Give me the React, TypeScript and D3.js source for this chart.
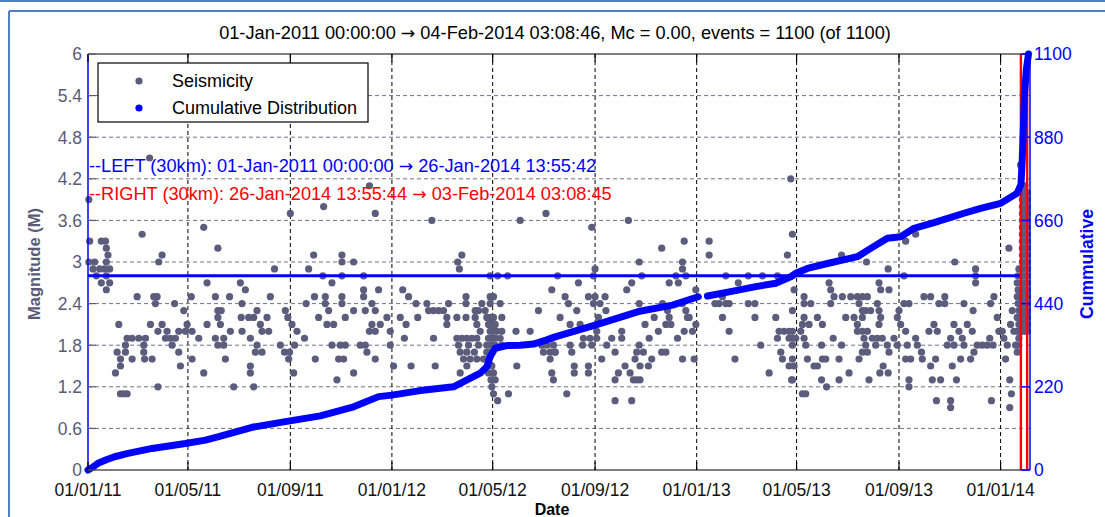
import React from "react";
import * as d3 from "d3";

// ---- data ----
const START = "2011-01-01T00:00:00Z";
const END = "2014-02-04T03:08:46Z";
const LEFT_WINDOW = ["2011-01-01T00:00:00Z", "2014-01-26T13:55:42Z"];
const RIGHT_WINDOW = ["2014-01-26T13:55:44Z", "2014-02-03T03:08:45Z"];
const REF_MAGNITUDE = 2.8;

const X_TICKS = ["2011-01-01", "2011-05-01", "2011-09-01", "2012-01-01", "2012-05-01", "2012-09-01", "2013-01-01", "2013-05-01", "2013-09-01", "2014-01-01"];
const Y_TICKS = [0, 0.6, 1.2, 1.8, 2.4, 3, 3.6, 4.2, 4.8, 5.4, 6];
const Y2_TICKS = [0, 220, 440, 660, 880, 1100];

const TITLE = "01-Jan-2011 00:00:00 \u2192 04-Feb-2014 03:08:46, Mc = 0.00, events = 1100 (of 1100)";
const LEFT_LABEL = "--LEFT (30km): 01-Jan-2011 00:00:00 \u2192 26-Jan-2014 13:55:42";
const RIGHT_LABEL = "--RIGHT (30km): 26-Jan-2014 13:55:44 \u2192 03-Feb-2014 03:08:45";

// seismicity: [days since 01-Jan-2011, magnitude]
const SEIS_2011: [number, number][] = [
  [74,4.5],[1,3.9],[2,3.3],[16,3.3],[21,3.3],[22,3.2],[24,3.1],[1,3.0],[8,3.0],[22,3.0],[6,2.9],[14,2.9],[20,2.9],[26,2.9],[10,2.8],[22,2.8],[16,2.7],[26,2.7],[22,2.6],
  [65,3.4],[89,3.1],[85,3.0],[139,3.5],[156,3.2],[143,2.7],[224,2.9],[243,3.7],[271,3.1],[265,2.9],[283,3.8],[282,2.8],
  [59,2.5],[79,2.5],[83,2.5],[81,2.4],[37,2.1],[75,2.1],[89,2.1],[84,2.0],[95,2.0],[93,1.9],[47,1.9],[53,1.9],[61,1.9],[69,1.9],[45,1.8],[67,1.8],[35,1.7],[45,1.7],[67,1.7],[39,1.6],[53,1.6],[68,1.6],[77,1.6],[39,1.5],[33,1.4],[39,1.1],[43,1.1],[47,1.1],[84,1.2],
  [104,2.4],[115,2.3],[99,1.9],[105,1.9],[101,1.8],[109,1.7],[111,1.5],[109,2.0],[117,2.0],[125,2.0],[119,2.1],[124,2.5],[125,1.6],[133,1.9],[139,1.4],[143,2.1],[153,2.5],[156,2.3],[160,2.3],[156,2.2],[159,2.1],[153,1.9],[163,1.9],[156,1.8],[163,1.8],[165,1.6],[170,2.5],[171,2.0],[175,1.2],[183,2.7],[189,2.6],[185,2.4],[184,2.2],[193,2.2],[199,2.2],[203,2.3],[185,2.0],[195,1.9],[207,2.1],[215,2.2],[209,2.0],[217,2.0],[203,1.8],[201,1.7],[209,1.7],[195,1.5],[195,1.4],[199,1.2],[219,2.5],[231,1.8],[237,2.3],[240,2.2],[245,2.1],[251,2.0],[236,1.7],[242,1.7],[248,1.8],[241,1.6],[247,1.4],[260,1.9],[262,2.4],[272,2.5],[273,1.6],[277,2.2],
  [338,4.1],[345,3.7],[305,3.1],[305,3.0],[319,3.0],[305,2.8],[331,2.8],[293,2.7],
  [285,2.5],[285,2.4],[289,2.3],[305,2.5],[305,2.4],[309,2.2],[319,2.3],[331,2.6],[331,2.5],[333,2.3],[349,2.6],[341,2.4],[345,2.3],[341,2.1],[351,2.1],[338,2.0],[345,2.0],[359,2.2],[363,2.0],[287,2.1],[295,2.1],[293,1.8],[303,1.8],[309,1.8],[327,1.8],[333,1.8],[335,1.7],[301,1.6],[307,1.6],[345,1.6],[319,1.4],[299,1.3],[363,1.8],
];

const SEIS_2012: [number, number][] = [
  [367,1.5],[413,3.6],[519,3.6],[550,3.7],[444,3.0],[446,2.9],[449,3.1],[483,2.8],[492,2.8],[504,2.8],
  [378,2.6],[385,2.5],[394,2.4],[396,2.2],[375,2.2],[382,2.1],[380,1.9],[388,1.5],[407,2.4],[409,2.3],[415,2.3],[421,2.3],[427,2.3],[431,2.2],[431,2.1],[433,2.4],[415,1.9],[417,1.5],[443,2.2],[454,2.5],[454,2.4],[454,2.2],[443,1.9],[449,1.9],[455,1.9],[461,1.9],[445,1.8],[457,1.8],[447,1.7],[455,1.7],[464,1.7],[451,1.6],[459,1.6],[455,1.5],[447,1.4],
  [465,2.3],[469,2.3],[465,2.2],[467,2.1],[471,2.0],[467,1.9],[469,1.8],[467,1.6],
  [473,2.4],[477,2.3],[483,2.4],[483,2.5],[487,2.5],[479,2.2],[483,2.2],[487,2.2],[481,2.1],[485,2.1],[489,2.1],[483,2.0],[487,2.0],[491,2.0],[497,2.0],[481,1.9],[485,1.9],[489,1.9],[495,1.9],[479,1.8],[483,1.8],[489,1.8],[479,1.7],[485,1.7],[475,1.6],[481,1.6],[485,1.5],[481,1.4],[487,1.4],[484,1.3],[489,1.3],[485,1.2],[487,1.1],[492,1.0],[495,2.4],[497,2.2],[505,1.1],[497,1.8],
  [514,2.0],[515,1.5],[531,2.0],[541,2.3],[545,1.8],[547,1.7],[551,1.8],[555,1.7],[559,1.8],[561,1.7],[555,1.6],[557,1.4],[559,1.3],[557,2.6],[564,2.8],
  [649,3.6],[605,3.5],[689,3.2],[716,3.3],[609,2.9],[607,2.8],[662,3.0],[665,2.8],[714,3.0],[714,2.9],[706,2.8],[718,2.8],[589,2.7],[653,2.7],[647,2.6],[698,2.7],[709,2.7],
  [573,2.5],[577,2.4],[567,2.2],[587,2.3],[601,2.5],[609,2.5],[621,2.5],[607,2.4],[615,2.4],[622,2.3],[613,2.2],[579,2.1],[591,2.1],[611,2.0],[595,1.9],[603,1.9],[611,1.9],[579,1.8],[594,1.8],[605,1.8],[623,1.8],[581,1.7],[561,1.7],[584,1.5],[584,1.4],[601,1.5],[601,1.4],[575,1.1],[617,1.6],
  [629,1.9],[641,2.0],[641,1.9],[633,1.7],[645,1.5],[637,1.4],[633,1.3],[633,1.0],[653,1.0],[651,1.4],[655,1.3],[659,1.3],[663,1.3],[657,1.6],[663,1.5],[659,1.7],[667,1.7],[662,1.8],[662,2.4],[669,2.1],[674,1.9],[673,1.5],[677,1.6],[680,2.2],[685,2.0],[690,2.4],[696,2.3],[698,2.2],[694,2.1],[700,2.1],[689,1.7],[694,1.7],[708,1.9],[714,1.6],[714,2.4],[718,2.3],[722,2.2],[720,2.2],[716,2.0],[726,2.0],[728,1.6],
];

const SEIS_2013: [number, number][] = [
  [730,2.6],[730,2.1],[746,3.3],[746,3.1],[766,2.8],[793,2.8],[810,2.8],[828,2.8],[781,2.7],
  [753,2.4],[758,2.4],[762,2.5],[770,2.4],[766,2.4],[762,2.2],[770,2.0],[777,1.6],[793,2.4],[801,2.4],[801,2.2],[808,1.8],[818,1.4],[826,2.2],[830,2.0],[836,2.0],[842,2.0],[828,1.9],[842,1.9],[846,1.8],[832,1.7],[834,1.6],[842,1.5],[845,1.3],
  [844,4.2],[846,3.4],[840,3.1],[905,3.1],[935,3.0],[982,3.3],[994,3.4],[961,2.9],[1041,3.0],[1066,2.9],[980,2.8],[1066,2.8],[1066,2.7],[890,2.7],[892,2.6],[950,2.7],[952,2.6],[962,2.6],[848,2.6],
  [860,2.5],[868,2.4],[860,2.4],[896,2.5],[906,2.5],[916,2.5],[924,2.5],[930,2.5],[936,2.5],[892,2.4],[926,2.4],[930,2.3],[940,2.3],[948,2.4],[950,2.3],[952,2.2],[846,2.3],[860,2.2],[858,2.1],[866,2.1],[856,2.0],[846,2.0],[846,1.9],[850,1.9],[860,1.9],[862,1.8],[846,1.6],[848,1.5],[846,1.3],
  [876,2.2],[882,2.1],[881,1.8],[895,1.9],[905,1.8],[902,1.6],[864,1.6],[872,1.5],[876,1.5],[882,1.6],[886,1.6],[881,1.3],[887,1.2],[902,1.3],[858,1.1],[862,1.1],[910,2.2],[920,2.2],[924,2.1],[930,2.2],[934,2.3],[924,2.0],[930,2.0],[936,2.0],[932,1.9],[934,1.8],[936,1.7],[930,1.7],[942,1.9],[948,1.9],[954,1.9],[946,1.8],[960,1.8],[962,1.7],[926,1.6],[950,2.1],[914,1.4],[938,1.3],[955,1.5],[951,1.4],[961,1.4],[968,1.9],
  [974,2.3],[972,2.2],[976,2.1],[982,2.0],[986,2.4],[980,2.4],[972,1.8],[984,1.8],[982,1.6],[988,1.6],[994,1.9],[996,1.8],[1001,1.7],[1002,1.6],[986,1.3],[986,1.2],[1004,2.5],[1012,2.5],[1010,2.0],[1016,2.1],[1020,2.0],[1012,1.5],[1014,1.3],[1024,1.3],[1018,1.6],[1019,1.0],[1022,2.4],[1029,2.5],[1029,2.4],[1032,1.8],[1036,1.9],[1040,1.8],[1038,1.5],[1043,1.3],[1036,1.0],[1036,0.9],
  [1040,2.1],[1046,2.0],[1050,1.9],[1052,1.8],[1048,1.6],[1052,2.4],[1056,2.1],[1062,2.0],[1063,2.3],[1060,1.6],[1064,1.7],
  [1068,1.8],[1074,1.8],[1080,1.8],[1083,1.9],[1087,1.8],[1084,2.4],[1088,2.5],[1092,2.2],[1094,2.0],[1095,2.0],
];

const SEIS_2014: [number, number][] = [
  [1098,2.0],[1100,1.9],[1104,1.8],[1102,1.6],[1106,3.2],[1108,2.1],[1110,2.3],[1112,2.0],[1114,1.8],[1116,1.7],[1107,1.3],[1109,1.1],[1107,0.9],[1085,1.0],
  [1118,2.9],[1120,4.4],[1117,2.8],[1116,2.7],[1117,2.6],[1116,2.5],[1117,2.4],[1118,2.3],[1116,2.2],[1118,2.1],[1116,2.0],[1118,1.9],[1117,1.8],[1119,2.5],[1119,2.2],[1119,2.0],
];

// right-window swarm (days since 01-Jan-2011, magnitudes)
const SWARM_DAYS = [1122.2, 1125.2, 1128.2];
const SWARM_MAGS = [
  [2.0, 2.1, 2.2, 2.3, 2.4, 2.5, 2.6, 2.7, 2.8, 2.9, 3.0, 3.1, 3.2, 3.3, 3.4, 3.5, 3.6, 3.7, 3.8, 3.9, 4.0],
  [2.0, 2.1, 2.2, 2.3, 2.4, 2.5, 2.6, 2.7, 2.8, 2.9, 3.0, 3.1, 3.2, 3.3, 3.4, 3.5, 3.6, 3.7, 3.8, 3.9, 4.0, 4.1],
  [2.0, 2.1, 2.2, 2.3, 2.4, 2.5, 2.6, 2.7, 2.8, 2.9, 3.0, 3.1, 3.2, 3.3, 3.4, 3.5, 3.6, 3.7, 3.8, 3.9, 4.0],
];

// cumulative number of events: [days since 01-Jan-2011, count]
const CUM_PART1: [number, number][] = [
  [0,0],[6,8],[12,18],[22,27],[32,35],[48,44],[77,57],[117,70],[141,79],[157,88],[197,113],[237,128],[279,143],[319,167],[349,194],[365,198],[399,210],[439,220],[471,256],[479,273],[483,300],[489,322],[503,329],[519,330],[535,333],[551,344],[561,352],[609,383],[661,419],[702,436],[733,458],
];
const CUM_PART2: [number, number][] = [
  [744,460],[770,471],[802,485],[826,494],[844,511],[850,520],[864,533],[888,546],[924,564],[940,586],[960,613],[976,617],[992,639],[1016,654],[1052,679],[1072,692],[1096,705],[1116,732],[1120.5,755],[1122,820],[1123,880],[1124.5,986],[1127,1060],[1129.5,1100],
];

// ---- layout ----
const W = 1105, H = 517;
const L = 88, R = 1029, T = 54, B = 470;
const FONT = "'Liberation Sans', Arial, Helvetica, sans-serif";
const ARROW_FONT = "'DejaVu Sans', sans-serif";
const GRAY_DOT = "#5c5c7c";
const AXIS_GRAY = "#5a5a78";

const t0 = new Date(START).getTime();
const dayDate = (d: number) => new Date(t0 + d * 86400000);

function withArrow(s: string) {
  const parts = s.split("\u2192");
  return parts.map((p, i) => (
    <React.Fragment key={i}>
      {i > 0 && <tspan fontFamily={ARROW_FONT} fontSize="0.95em">{"\u2192"}</tspan>}
      <tspan>{p}</tspan>
    </React.Fragment>
  ));
}

export default function App() {
  const x = d3.scaleUtc().domain([new Date(START), new Date(END)]).range([L, R]);
  const y = d3.scaleLinear().domain([0, 6]).range([B, T]);
  const y2 = d3.scaleLinear().domain([0, 1100]).range([B, T]);
  const fmt = d3.utcFormat("%d/%m/%y");

  const seis: [number, number][] = [...SEIS_2011, ...SEIS_2012, ...SEIS_2013, ...SEIS_2014];
  const swarm: [number, number][] = [];
  SWARM_DAYS.forEach((d, i) => SWARM_MAGS[i].forEach((m) => swarm.push([d, m])));

  const cumLine = d3
    .line<[number, number]>()
    .x((d) => x(dayDate(d[0])))
    .y((d) => y2(d[1]));

  const xt = X_TICKS.map((s) => new Date(s + "T00:00:00Z"));
  const RA = R + 1; // right axis line

  return (
    <svg width={W} height={H} style={{ position: "absolute", left: 0, top: 0, background: "#fff" }} fontFamily={FONT}>
      <rect x={0} y={0} width={W} height={H} fill="#fff" />
      {/* window frame */}
      <line x1={0} x2={W} y1={1} y2={1} stroke="#4f7fbf" strokeWidth={2} />
      <line x1={9} x2={W} y1={11} y2={11} stroke="#4f7fbf" strokeWidth={2} />
      <line x1={9} x2={9} y1={11} y2={H} stroke="#4f7fbf" strokeWidth={2} />

      {/* title */}
      <text x={555} y={39} textAnchor="middle" fontSize={18.2} fill="#000">{withArrow(TITLE)}</text>

      {/* grid */}
      {Y_TICKS.filter((v) => v > 0 && v < 6).map((v) => (
        <line key={"hg" + v} x1={L} x2={RA} y1={y(v)} y2={y(v)} stroke="#70708c" strokeDasharray="4,3" strokeWidth={1} />
      ))}
      {xt.slice(1).map((d, i) => (
        <line key={"vg" + i} x1={x(d)} x2={x(d)} y1={T} y2={B} stroke="#000" strokeDasharray="4,3" strokeWidth={1} />
      ))}

      {/* seismicity */}
      {seis.map((p, i) => (
        <circle key={"s" + i} cx={x(dayDate(p[0]))} cy={y(p[1])} r={3.6} fill={GRAY_DOT} />
      ))}
      {swarm.map((p, i) => (
        <circle key={"w" + i} cx={x(dayDate(p[0]))} cy={y(p[1])} r={3.6} fill={GRAY_DOT} />
      ))}

      {/* reference magnitude line over left window */}
      <line x1={x(new Date(LEFT_WINDOW[0]))} x2={x(new Date(LEFT_WINDOW[1]))} y1={y(REF_MAGNITUDE)} y2={y(REF_MAGNITUDE)} stroke="#0000ff" strokeWidth={3} />

      {/* window boundaries */}
      {[LEFT_WINDOW[1], RIGHT_WINDOW[1]].map((s, i) => (
        <line key={"r" + i} x1={x(new Date(s)) - 1} x2={x(new Date(s)) - 1} y1={T} y2={B} stroke="#ff0000" strokeWidth={2.4} />
      ))}

      {/* cumulative */}
      {[CUM_PART1, CUM_PART2].map((part, i) => (
        <path key={"c" + i} d={cumLine(part) || ""} fill="none" stroke="#0000ff" strokeWidth={7} strokeLinecap="round" strokeLinejoin="round" />
      ))}

      {/* axes box */}
      <line x1={L} x2={RA} y1={T} y2={T} stroke="#000" strokeWidth={1.2} />
      <line x1={L} x2={RA} y1={B} y2={B} stroke="#000" strokeWidth={1.2} />
      <line x1={L} x2={L} y1={T} y2={B} stroke="#0000ff" strokeWidth={1.5} />
      <line x1={RA} x2={RA} y1={T} y2={B} stroke="#0000ff" strokeWidth={1.5} />

      {/* x ticks */}
      {xt.map((d, i) => (
        <g key={"xt" + i}>
          <line x1={x(d)} x2={x(d)} y1={B} y2={B - 8} stroke="#000" strokeWidth={1.2} />
          <line x1={x(d)} x2={x(d)} y1={T} y2={T + 8} stroke="#000" strokeWidth={1.2} />
          <text x={x(d)} y={496} textAnchor="middle" fontSize={17.5} fill="#111">{fmt(d)}</text>
        </g>
      ))}

      {/* left y ticks */}
      {Y_TICKS.map((v) => (
        <g key={"yt" + v}>
          <line x1={L} x2={L + 8} y1={y(v)} y2={y(v)} stroke={AXIS_GRAY} strokeWidth={1.2} />
          <text x={82} y={y(v)} dy="0.36em" textAnchor="end" fontSize={17.5} fill={AXIS_GRAY}>{String(v)}</text>
        </g>
      ))}

      {/* right y ticks */}
      {Y2_TICKS.map((v) => (
        <g key={"y2" + v}>
          <line x1={RA} x2={RA - 9} y1={y2(v)} y2={y2(v)} stroke="#0000ff" strokeWidth={1.5} />
          <text x={1034} y={y2(v)} dy="0.36em" textAnchor="start" fontSize={17.5} fill="#0000ff">{String(v)}</text>
        </g>
      ))}

      {/* axis labels */}
      <text transform="translate(40,264) rotate(-90)" textAnchor="middle" fontSize={16.5} fontWeight="bold" fill={AXIS_GRAY}>Magnitude (M)</text>
      <text transform="translate(1093,264) rotate(-90)" textAnchor="middle" fontSize={17.5} fontWeight="bold" fill="#0000ff">Cummulative</text>
      <text x={552} y={515} textAnchor="middle" fontSize={16} fontWeight="bold" fill="#000">Date</text>

      {/* window annotations */}
      <text x={89} y={172} fontSize={18.2} fill="#0000ff">{withArrow(LEFT_LABEL)}</text>
      <text x={89} y={200} fontSize={18.2} fill="#ff0000">{withArrow(RIGHT_LABEL)}</text>

      {/* legend */}
      <rect x={98} y={63} width={270} height={59} fill="#fff" stroke="#000" strokeWidth={1.2} />
      <circle cx={139} cy={81} r={3.6} fill={GRAY_DOT} />
      <text x={172} y={87} fontSize={18} fill="#000">Seismicity</text>
      <circle cx={139} cy={108} r={3.6} fill="#0000ff" />
      <text x={172} y={114} fontSize={18} fill="#000">Cumulative Distribution</text>
    </svg>
  );
}
